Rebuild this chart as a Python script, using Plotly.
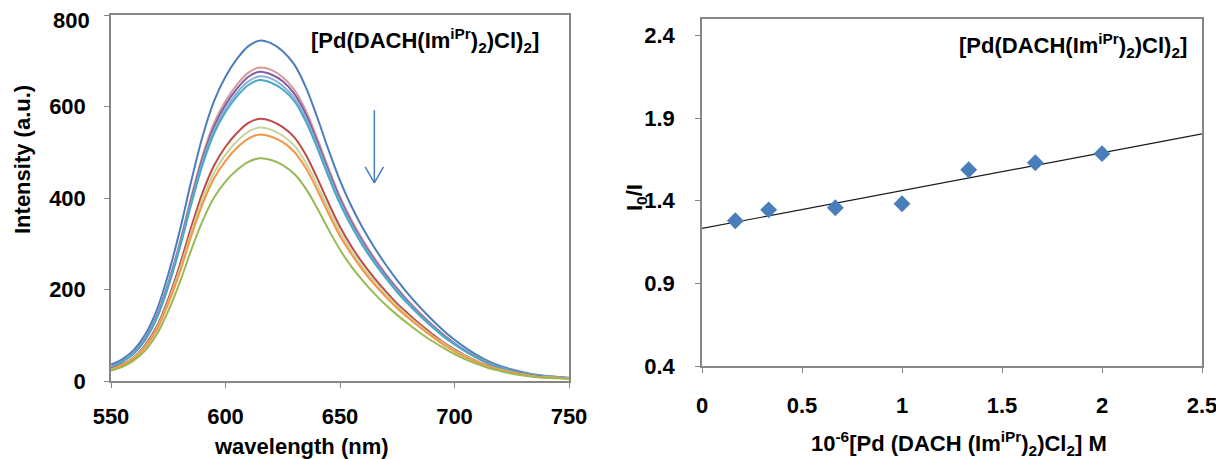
import numpy as np
import plotly.graph_objects as go

# ---------------- data ----------------
wavelength = list(range(550, 751, 5))

int_blue = [36, 48, 68, 102, 155, 233, 328, 436, 535, 612, 665, 704, 732, 744, 738, 721, 692, 643, 577, 505, 438,
            382, 334, 292, 254, 220, 189, 161, 135, 111, 90, 72, 56, 43, 33, 25, 19, 14, 11, 9, 7]
int_pink = [30, 44, 63, 94, 143, 215, 302, 402, 493, 564, 612, 648, 674, 685, 680, 664, 637, 592, 531, 465, 403,
            352, 308, 269, 234, 203, 174, 148, 124, 102, 83, 66, 52, 40, 30, 23, 17, 13, 10, 8, 6]
int_purple = [29, 44, 62, 93, 141, 212, 298, 396, 486, 556, 604, 639, 665, 676, 670, 655, 628, 584, 524, 459, 398,
              347, 303, 265, 231, 200, 172, 146, 123, 101, 82, 65, 51, 39, 30, 23, 17, 13, 10, 8, 6]
int_lightblue = [28, 43, 61, 91, 139, 209, 294, 390, 479, 548, 595, 630, 655, 666, 661, 645, 619, 575, 516, 452, 392,
                 342, 299, 261, 227, 197, 169, 144, 121, 99, 81, 64, 50, 38, 30, 22, 17, 13, 10, 8, 6]
int_aqua = [28, 42, 60, 90, 137, 206, 290, 385, 473, 541, 588, 622, 647, 658, 652, 637, 612, 568, 510, 446, 387,
            338, 295, 258, 225, 194, 167, 142, 119, 98, 80, 64, 50, 38, 29, 22, 17, 12, 10, 8, 6]
int_red = [26, 37, 52, 79, 119, 179, 253, 336, 412, 471, 512, 542, 564, 573, 568, 555, 533, 495, 444, 389, 337,
           294, 257, 225, 196, 169, 146, 124, 104, 85, 69, 55, 43, 33, 25, 19, 15, 11, 8, 7, 5]
int_lightgreen = [25, 36, 51, 76, 115, 173, 244, 324, 398, 455, 495, 524, 545, 554, 549, 536, 515, 478, 429, 376, 326,
                  284, 248, 217, 189, 164, 141, 120, 100, 83, 67, 54, 42, 32, 25, 19, 14, 10, 8, 7, 5]
int_orange = [25, 35, 49, 74, 112, 169, 237, 316, 387, 443, 481, 510, 530, 539, 534, 522, 501, 466, 418, 366, 317,
              277, 242, 211, 184, 159, 137, 117, 98, 80, 65, 52, 41, 31, 24, 18, 14, 10, 8, 7, 5]
int_green = [23, 31, 45, 67, 102, 153, 215, 286, 350, 401, 436, 461, 479, 487, 483, 472, 453, 421, 378, 331, 287,
             250, 219, 191, 166, 144, 124, 105, 88, 73, 59, 47, 37, 28, 22, 16, 12, 9, 7, 6, 5]

spectra = [int_blue, int_pink, int_purple, int_lightblue, int_aqua,
           int_red, int_lightgreen, int_orange, int_green]
spectra_colors = ["#4A7EBB", "#DA9896", "#7D60A0", "#8DAEDB", "#46AAC5",
                  "#BE4B48", "#C3D69B", "#F69545", "#98B954"]

conc = [1/6, 1/3, 2/3, 1.0, 4/3, 5/3, 2.0]
i0_over_i = [1.279, 1.345, 1.358, 1.382, 1.588, 1.630, 1.685]

x_ticks_left = [550, 600, 650, 700, 750]
y_ticks_left = [0, 200, 400, 600, 800]
y_ticktext_left = ["0", "200", "400", "600", ""]   # top label drawn separately, nudged inside
y_top_label = "800"
x_ticks_right = [0, 0.5, 1, 1.5, 2, 2.5]
y_ticks_right = [0.4, 0.9, 1.4, 1.9, 2.4]

title_text = "[Pd(DACH(Im<sup>iPr</sup>)<sub>2</sub>)Cl)<sub>2</sub>]"

# ---------------- figure ----------------
FONT = "Liberation Sans, Arial, sans-serif"
OFF = 8                      # page body margin
W, H = 1224 - OFF, 459 - OFF

fig = go.Figure()

for ys, c in zip(spectra, spectra_colors):
    fig.add_trace(go.Scatter(x=wavelength, y=ys, mode="lines", line=dict(color=c, width=2, shape="spline"),
                             xaxis="x", yaxis="y", showlegend=False, hoverinfo="skip"))

slope, intercept = np.polyfit(conc, i0_over_i, 1)
fit_x = np.array([0.0, 2.5])
fit_y = slope * fit_x + intercept
fig.add_trace(go.Scatter(x=fit_x, y=fit_y, mode="lines", line=dict(color="#1a1a1a", width=1.2),
                         xaxis="x2", yaxis="y2", showlegend=False))
fig.add_trace(go.Scatter(x=conc, y=i0_over_i, mode="markers",
                         marker=dict(symbol="diamond", size=13, color="#4A7EBB"),
                         xaxis="x2", yaxis="y2", showlegend=False))

def px_x(p):
    return (p - OFF) / W

def px_y(p):
    return 1 - (p - OFF) / H

axis_common = dict(showline=True, linecolor="#868686", linewidth=1.5, mirror=True,
                   ticks="outside", ticklen=5, tickcolor="#868686", tickwidth=1.2,
                   showgrid=False, zeroline=False, automargin=False, ticklabeloverflow="allow",
                   tickfont=dict(family=FONT, size=22, color="black", weight="bold"))

fig.update_layout(
    width=W, height=H,
    margin=dict(l=0, r=0, t=0, b=0),
    paper_bgcolor="white", plot_bgcolor="white",
    xaxis=dict(domain=[px_x(111), px_x(569)], range=[550, 750], tickvals=x_ticks_left,
               anchor="y", ticklabelstandoff=10, **axis_common),
    yaxis=dict(domain=[px_y(381), px_y(15)], range=[0, 800], tickvals=y_ticks_left,
               ticktext=y_ticktext_left, anchor="x", ticklabelstandoff=14, **axis_common),
    xaxis2=dict(domain=[px_x(702), px_x(1202)], range=[0, 2.5], tickvals=x_ticks_right,
                anchor="y2", ticklabelstandoff=14, **axis_common),
    yaxis2=dict(domain=[px_y(366), px_y(19)], range=[0.4, 2.5], tickvals=y_ticks_right,
                anchor="x2", ticklabelstandoff=16, **axis_common),
)

# arrow (open V head) in left panel data coordinates
arrow_col = "#4A7EBB"
fig.add_shape(type="line", xref="x", yref="y", x0=665, x1=665, y0=592, y1=433,
              line=dict(color=arrow_col, width=1.5))
fig.add_shape(type="line", xref="x", yref="y", x0=661, x1=665, y0=468, y1=433,
              line=dict(color=arrow_col, width=1.5))
fig.add_shape(type="line", xref="x", yref="y", x0=669, x1=665, y0=468, y1=433,
              line=dict(color=arrow_col, width=1.5))

def ann(text, x, y, angle=0, size=22, xanchor="center"):
    fig.add_annotation(text=text, x=px_x(x), y=px_y(y), xref="paper", yref="paper",
                       showarrow=False, xanchor=xanchor, yanchor="middle", textangle=angle,
                       font=dict(family=FONT, size=size, color="black", weight="bold"))

ann(y_top_label, 92, 21, xanchor="right")
ann(title_text, 425, 41)
ann(title_text, 1073, 46)
ann("Intensity (a.u.)", 22, 160, angle=-90)
ann("wavelength (nm)", 301, 446)
ann("I<sub>0</sub>/I", 636, 198, angle=-90)
ann("10<sup>-6</sup>[Pd (DACH (Im<sup>iPr</sup>)<sub>2</sub>)Cl<sub>2</sub>] M", 959, 443)

fig.write_html("out.html")
